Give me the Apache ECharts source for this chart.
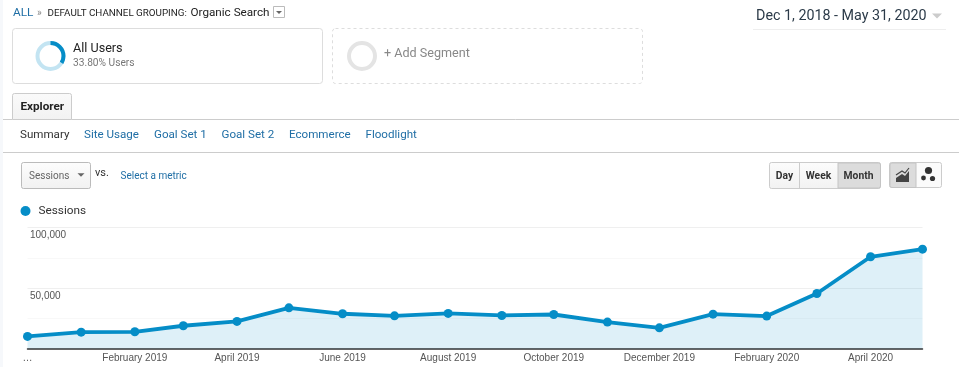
<!DOCTYPE html>
<html><head><meta charset="utf-8">
<style>html,body{margin:0;padding:0;background:#fff}#c{width:959px;height:367px}</style>
<script src="https://cdn.jsdelivr.net/npm/echarts@6/dist/echarts.min.js"></script>
</head><body><div id="c"></div>
<script>
const months = ['2018-12-01','2019-01-01','2019-02-01','2019-03-01','2019-04-01','2019-05-01','2019-06-01','2019-07-01','2019-08-01','2019-09-01','2019-10-01','2019-11-01','2019-12-01','2020-01-01','2020-02-01','2020-03-01','2020-04-01','2020-05-01'];
const sessions = [10000,13500,13800,18800,22400,33600,28700,27000,29000,27300,28100,21800,17100,28400,26800,45500,75800,82100];
const tickDates = ['2018-12-01','2019-02-01','2019-04-01','2019-06-01','2019-08-01','2019-10-01','2019-12-01','2020-02-01','2020-04-01'];
const tickLabels = ['…','February 2019','April 2019','June 2019','August 2019','October 2019','December 2019','February 2020','April 2020'];
const navItems = ['Summary','Site Usage','Goal Set 1','Goal Set 2','Ecommerce','Floodlight'];
const BLUE='#058dc7', LINK='#1f6ea5', F='Roboto, sans-serif', A='"Liberation Sans", Arial, sans-serif';
const ts = s => new Date(s+'T00:00:00Z').getTime();
const tickTs = tickDates.map(ts);

function T(x,y,text,size,fill,opt={}){return {type:'text',silent:true,style:{x,y:y+1,text,fill,font:(opt.weight||'normal')+' '+size+'px '+(opt.family||F),verticalAlign:'middle',align:opt.align||'left'}}}
function R(x,y,w,h,fill,stroke,r=0,extra={}){return {type:'rect',silent:true,shape:{x,y,width:w,height:h,r},style:Object.assign({fill:fill||'none',stroke:stroke||'none',lineWidth:1},extra)}}
function L(x1,y1,x2,y2,stroke){return {type:'line',silent:true,shape:{x1,y1,x2,y2},style:{stroke,lineWidth:1}}}
function Ring(cx,cy,color,start,end){return {type:'arc',silent:true,shape:{cx,cy,r:13,startAngle:start,endAngle:end,clockwise:true},style:{stroke:color,lineWidth:4,fill:'none'}}}
function Tri(x,y,w,h,fill){return {type:'polygon',silent:true,shape:{points:[[x-w/2,y-h/2],[x+w/2,y-h/2],[x,y+h/2]]},style:{fill}}}
const grad=(a,b)=>({type:'linear',x:0,y:0,x2:0,y2:1,colorStops:[{offset:0,color:a},{offset:1,color:b}]});

const navX=[20,84,154,221.5,289,365.5];
const ringTop=-Math.PI/2;
const ui=[
 R(0,0,3,367,'#f6f8fb'),
 T(13,12,'ALL',11.8,LINK),
 T(37,12,'»',10,'#888'),
 T(47.5,12.5,'DEFAULT CHANNEL GROUPING:',9.8,'#222'),
 T(190.5,12,'Organic Search',11.7,'#222'),
 R(273.5,6.5,11,11,'#fff','#bbb'),
 Tri(279,12.5,6,3,'#666'),
 R(12.5,28.5,310,55,'#fff','#ddd',3),
 Ring(50.5,56,'#c3e4f2',0,Math.PI*2),
 Ring(50.5,56,BLUE,ringTop,ringTop+Math.PI*2*0.338),
 T(73,48,'All Users',12.6,'#222'),
 T(73,62.5,'33.80% Users',10.2,'#777'),
 R(332.5,28.5,310,55,'#fff','#ddd',3,{lineDash:[3,3]}),
 Ring(362,56,'#e4e4e4',0,Math.PI*2),
 T(384,53,'+ Add Segment',12.6,'#888'),
 R(12.5,93.5,59,26,grad('#fafafa','#f2f2f2'),'#ccc',[2,2,0,0]),
 L(3,119.5,12.5,119.5,'#ccc'),L(71.5,119.5,959,119.5,'#ccc'),
 T(20.5,106.5,'Explorer',11.7,'#222',{weight:'bold'}),
 ...navItems.map((t,i)=>T(navX[i],134.5,t,11.6,i?LINK:'#333')),
 L(3,152.5,959,152.5,'#ccc'),
 R(21.5,162.5,69,26,grad('#fdfdfd','#f1f1f1'),'#bbb',2),
 T(29,175,'Sessions',10,'#666'),
 Tri(81,175,7,3.5,'#666'),
 T(95,172.5,'vs.',11,'#333'),
 T(120.5,175,'Select a metric',10,LINK),
 T(756,15.5,'Dec 1, 2018 - May 31, 2020',14.3,'#2b3a48'),
 Tri(937,16,10,5,'#ccc'),
 L(753,29.5,946,29.5,'#eee'),
 R(769.5,162.5,111,26,grad('#fcfcfc','#f2f2f2'),'#ccc',2),
 R(838,163,42.5,25,'#dcdcdc','#c4c4c4',[0,2,2,0]),
 L(799.5,162.5,799.5,188.5,'#ccc'),
 T(784.5,175,'Day',10.3,'#333',{weight:'bold',align:'center'}),
 T(818.5,175,'Week',10.3,'#333',{weight:'bold',align:'center'}),
 T(858.5,175,'Month',10.3,'#333',{weight:'bold',align:'center'}),
 R(889.5,162.5,52,25,'#fbfbfb','#ccc',2),
 R(890,163,26,24.5,'#dcdcdc','#c4c4c4',[2,0,0,2]),
 {type:'polygon',silent:true,shape:{points:[[896,182],[896,178],[902,174],[905,176],[909,171],[909,182]]},style:{fill:'#444'}},
 {type:'polyline',silent:true,shape:{points:[[896,175],[902,171],[905,173],[909,168]]},style:{stroke:'#444',lineWidth:1.2,fill:'none'}},
 {type:'circle',silent:true,shape:{cx:928.5,cy:170.5,r:3.6},style:{fill:'#333'}},
 {type:'circle',silent:true,shape:{cx:923.5,cy:178,r:2.4},style:{fill:'#333'}},
 {type:'circle',silent:true,shape:{cx:932.5,cy:178.5,r:2.6},style:{fill:'#333'}}
];

const chart=echarts.init(document.getElementById('c'),null,{renderer:'canvas'});
chart.setOption({
 animation:false,
 backgroundColor:'#fff',
 legend:{show:true,left:20.5,top:205,icon:'circle',itemWidth:10,itemHeight:10,itemGap:0,
   data:['Sessions'],textStyle:{color:'#333',fontFamily:F,fontSize:11.8,padding:[0,0,0,3]},selectedMode:false,padding:0},
 grid:{left:27.5,right:36.5,top:227.5,bottom:18.5,containLabel:false},
 xAxis:{type:'value',min:ts(months[0]),max:ts(months[months.length-1]),
   axisLine:{show:true,onZero:false,lineStyle:{color:'#333',width:1.5}},
   axisTick:{show:false},splitLine:{show:false},minorSplitLine:{show:false},
   axisLabel:{customValues:tickTs,hideOverlap:false,showMinLabel:true,showMaxLabel:true,color:'#555',fontFamily:A,fontSize:10,margin:5,
     formatter:v=>{const i=tickTs.indexOf(+v);return i<0?'':tickLabels[i];}}},
 yAxis:{type:'value',min:0,max:100000,interval:50000,
   axisLine:{show:false},axisTick:{show:false},
   splitLine:{show:true,lineStyle:{color:'#efefef',width:1}},
   minorTick:{show:false,splitNumber:2},
   minorSplitLine:{show:true,lineStyle:{color:'#f8f8f8',width:1}},
   axisLabel:{inside:true,color:'#555',fontFamily:A,fontSize:10,margin:2.5,verticalAlign:'top',padding:[3,0,0,0],
     formatter:v=>v===0?'':v.toLocaleString('en-US')}},
 series:[{name:'Sessions',type:'line',clip:false,data:months.map((m,i)=>[ts(m),sessions[i]]),
   symbol:'circle',symbolSize:9,showSymbol:true,showAllSymbol:true,
   itemStyle:{color:BLUE},lineStyle:{color:BLUE,width:3.8},
   areaStyle:{color:BLUE,opacity:0.135},emphasis:{disabled:true}}],
 graphic:{elements:ui}
});
</script></body></html>
